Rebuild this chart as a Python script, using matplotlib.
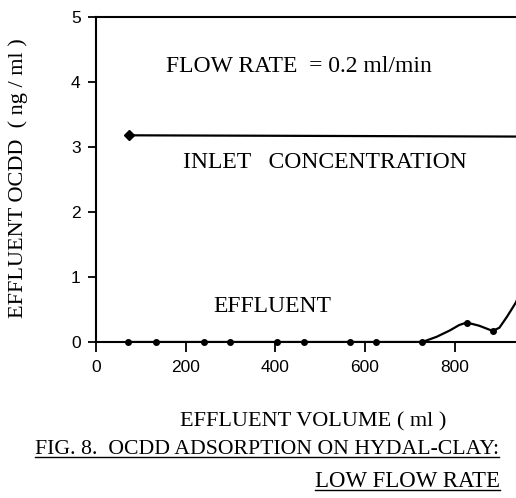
import matplotlib
matplotlib.use("Agg")
import matplotlib.pyplot as plt

# Data
eff_x = [71, 134, 241, 299, 404, 464, 567, 625, 728, 760, 790, 810, 827, 855, 885, 900, 917, 936, 950]
eff_y = [0.0, 0.0, 0.0, 0.0, 0.0, 0.0, 0.0, 0.0, 0.0, 0.08, 0.18, 0.26, 0.30, 0.25, 0.17, 0.22, 0.39, 0.60, 0.80]
eff_marker_x = [71, 134, 241, 299, 404, 464, 567, 625, 728, 827, 885]
eff_marker_y = [0.0, 0.0, 0.0, 0.0, 0.0, 0.0, 0.0, 0.0, 0.0, 0.30, 0.17]
inlet_x = [74, 960]
inlet_y = [3.18, 3.16]
xticks = [0, 200, 400, 600, 800]
yticks = [0, 1, 2, 3, 4, 5]

W, H = 516, 498
fig = plt.figure(figsize=(W / 100, H / 100), dpi=100)
ax = fig.add_axes([96 / W, (H - 342) / H, 1.0 - 96 / W, (342 - 17) / H])
ax.set_xlim(0, 937)
ax.set_ylim(0, 5)

ax.plot(eff_x, eff_y, color="black", lw=1.6, solid_joinstyle="round")
ax.plot(eff_marker_x, eff_marker_y, "o", color="black", ms=4, clip_on=False)
ax.plot(inlet_x, inlet_y, color="black", lw=1.6)
ax.plot(inlet_x[:1], inlet_y[:1], "D", color="black", ms=5, clip_on=False)

for s in ["left", "bottom", "top"]:
    ax.spines[s].set_linewidth(1.5)
ax.spines["right"].set_visible(False)

ax.set_xticks(xticks)
ax.set_yticks(yticks)
ax.tick_params(axis="both", direction="out", width=1.3, colors="black",
               labelsize=12.5)
ax.tick_params(axis="x", length=7, pad=6)
ax.tick_params(axis="y", length=6, pad=5)
for lab in ax.get_xticklabels() + ax.get_yticklabels():
    lab.set_family("Liberation Sans")

serif = "Liberation Serif"
fig.text(166 / W, 1 - 67 / H, "FLOW RATE  = 0.2 ml/min", family=serif,
         fontsize=17, va="center", ha="left")
fig.text(183 / W, 1 - 162 / H, "INLET   CONCENTRATION", family=serif,
         fontsize=17, va="center", ha="left")
fig.text(213 / W, 1 - 307 / H, "EFFLUENT", family=serif,
         fontsize=17, va="center", ha="left")
fig.text(18 / W, 1 - 178 / H, "EFFLUENT OCDD  ( ng / ml )", family=serif,
         fontsize=16, va="center", ha="center", rotation=90)
fig.text(180 / W, 1 - 422 / H, "EFFLUENT VOLUME ( ml )", family=serif,
         fontsize=16, va="center", ha="left")
t1 = fig.text(35 / W, 1 - 449 / H, "FIG. 8.  OCDD ADSORPTION ON HYDAL-CLAY:",
              family=serif, fontsize=15.7, va="center", ha="left")
t2 = fig.text(500 / W, 1 - 481 / H, "LOW FLOW RATE",
              family=serif, fontsize=16.5, va="center", ha="right")

fig.canvas.draw()
r = fig.canvas.get_renderer()
for t in (t1, t2):
    bb = t.get_window_extent(r)
    y = (bb.y0 + 2) / H
    fig.add_artist(plt.Line2D([bb.x0 / W, bb.x1 / W], [y, y],
                              transform=fig.transFigure, color="black", lw=1.0))

fig.savefig("out.png", dpi=100)
